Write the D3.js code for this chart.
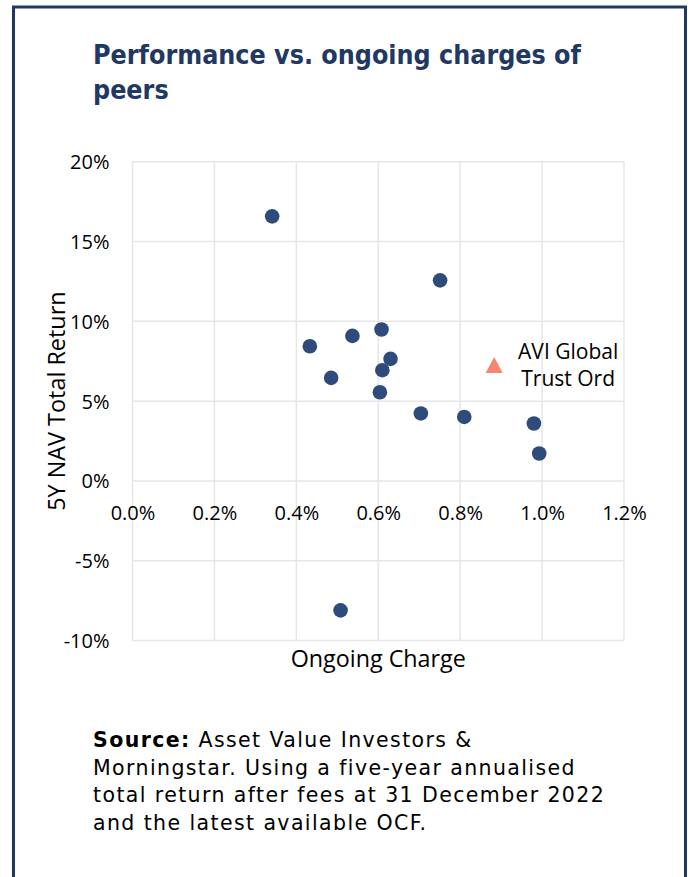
<!DOCTYPE html>
<html><head><meta charset="utf-8">
<script src="https://cdn.jsdelivr.net/npm/d3@7"></script>
<style>body{margin:0;background:#fff}</style>
</head><body>
<svg id="c" width="693" height="877"></svg>
<script>
// ---- data ----
const peerCharge = [0.00341, 0.00751, 0.00433, 0.00537, 0.00608, 0.00485, 0.00630, 0.00610, 0.00604, 0.00704, 0.00810, 0.00980, 0.00993, 0.00508];
const peerReturn = [0.1658, 0.1257, 0.0844, 0.0909, 0.0949, 0.0646, 0.0765, 0.0694, 0.0556, 0.0423, 0.0401, 0.0360, 0.0172, -0.0811];
const aviCharge = [0.00883];
const aviReturn = [0.0726];
const aviLabel = ["AVI Global", "Trust Ord"];
const xTicks = [0, 0.002, 0.004, 0.006, 0.008, 0.010, 0.012];
const xTickLabels = ["0.0%", "0.2%", "0.4%", "0.6%", "0.8%", "1.0%", "1.2%"];
const yTicks = [-0.10, -0.05, 0, 0.05, 0.10, 0.15, 0.20];
const yTickLabels = ["-10%", "-5%", "0%", "5%", "10%", "15%", "20%"];
const titleLines = ["Performance vs. ongoing charges of", "peers"];
const xTitle = "Ongoing Charge";
const yTitle = "5Y NAV Total Return";
const sourceBold = "Source:";
const sourceLines = [" Asset Value Investors &", "Morningstar. Using a five-year annualised", "total return after fees at 31 December 2022", "and the latest available OCF."];

// ---- drawing ----
const svg = d3.select("#c");
const navy = "#1f3864";
const axisFont = "'Open Sans', sans-serif";
const titleFont = "'DejaVu Sans Condensed', 'DejaVu Sans', sans-serif";
const textFont = "'DejaVu Sans', sans-serif";

svg.append("rect").attr("x", 13.5).attr("y", 7).attr("width", 672).attr("height", 900)
  .attr("fill", "#fff").attr("stroke", navy).attr("stroke-width", 3);

svg.append("g").selectAll("text").data(titleLines).join("text")
  .attr("x", 93).attr("y", (d, i) => 64 + i * 35)
  .attr("font-family", titleFont).attr("font-weight", "bold").attr("font-size", 26.6)
  .attr("fill", navy).text(d => d);

const x = d3.scaleLinear().domain([0, 0.012]).range([132.5, 624]);
const y = d3.scaleLinear().domain([-0.10, 0.20]).range([640.5, 161.8]);

const grid = svg.append("g").attr("stroke", "#e6e6e6").attr("stroke-width", 1.5);
grid.selectAll("line.h").data(yTicks).join("line").attr("class", "h")
  .attr("x1", x(0)).attr("x2", x(0.012)).attr("y1", d => y(d)).attr("y2", d => y(d));
grid.selectAll("line.v").data(xTicks).join("line").attr("class", "v")
  .attr("y1", y(-0.10)).attr("y2", y(0.20)).attr("x1", d => x(d)).attr("x2", d => x(d));

// y axis
const yAxis = d3.axisLeft(y).tickValues(yTicks).tickSize(0).tickPadding(0)
  .tickFormat((d, i) => yTickLabels[i]);
const gy = svg.append("g").attr("transform", `translate(${x(0) - 23},0)`).call(yAxis);
gy.select(".domain").remove();
gy.selectAll("text").attr("font-family", axisFont).attr("font-size", 20).attr("fill", "#000").attr("dy", "0.35em");

// x axis at zero line
const xAxis = d3.axisBottom(x).tickValues(xTicks).tickSize(0).tickPadding(0)
  .tickFormat((d, i) => xTickLabels[i]);
const gx = svg.append("g").attr("transform", `translate(0,${y(0) + 39.5})`).call(xAxis);
gx.select(".domain").remove();
gx.selectAll("text").attr("font-family", axisFont).attr("font-size", 20).attr("fill", "#000").attr("dy", "0");

// axis titles
svg.append("text").attr("x", (x(0) + x(0.012)) / 2).attr("y", 667).attr("text-anchor", "middle")
  .attr("font-family", axisFont).attr("font-size", 23.3).attr("fill", "#000").text(xTitle);
svg.append("text").attr("transform", `translate(65,${(y(0.20) + y(-0.10)) / 2}) rotate(-90)`)
  .attr("text-anchor", "middle").attr("font-family", axisFont).attr("font-size", 23.4).attr("fill", "#000").text(yTitle);

// peers
svg.append("g").selectAll("circle").data(peerCharge).join("circle")
  .attr("cx", d => x(d)).attr("cy", (d, i) => y(peerReturn[i])).attr("r", 7.3)
  .attr("fill", "#2f4b7c");

// AVI triangle
const tw = 17, th = 16;
svg.append("g").selectAll("path").data(aviCharge).join("path")
  .attr("d", (d, i) => {
    const cx = x(d), cy = y(aviReturn[i]);
    return `M${cx},${cy - th / 2}L${cx + tw / 2},${cy + th / 2}L${cx - tw / 2},${cy + th / 2}Z`;
  })
  .attr("fill", "#f8856f");
svg.append("g").selectAll("text").data(aviLabel).join("text")
  .attr("x", x(aviCharge[0]) + 74).attr("y", (d, i) => y(aviReturn[0]) - 6 + i * 27)
  .attr("text-anchor", "middle").attr("font-family", axisFont).attr("font-size", 21).attr("fill", "#000")
  .text(d => d);

// source
const src = svg.append("g").attr("font-family", textFont).attr("font-size", 20.5).attr("fill", "#000")
  .attr("letter-spacing", 1.4);
sourceLines.forEach((line, i) => {
  const t = src.append("text").attr("x", 93).attr("y", 747 + i * 27.5);
  if (i === 0) t.append("tspan").attr("font-weight", "bold").text(sourceBold);
  t.append("tspan").text(line);
});
</script>
</body></html>
